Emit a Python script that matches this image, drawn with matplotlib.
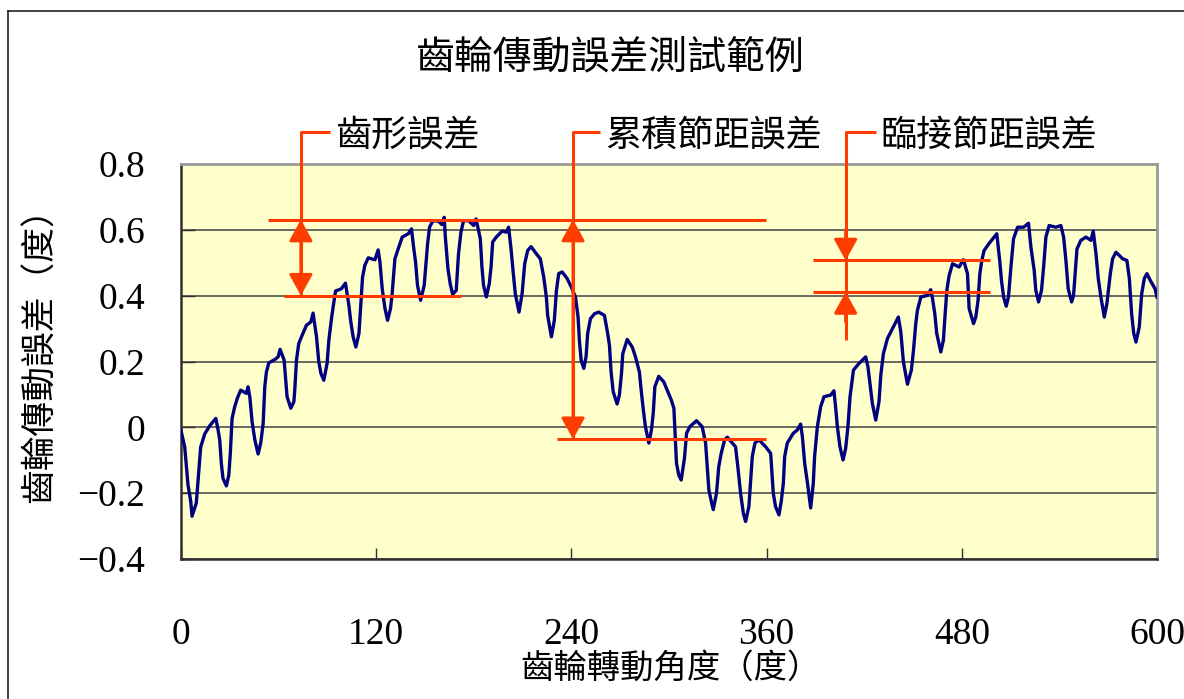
import numpy as np
import matplotlib
matplotlib.use('Agg')
import matplotlib.pyplot as plt

plt.rcParams['font.family'] = ['Noto Sans CJK TC', 'DejaVu Sans']

###########################################################
# data

# gear rotation angle (deg) and transmission error (deg)
angle_deg = [0.0, 2.3, 4.3, 6.0, 6.8, 9.4, 10.9, 12.1, 14.6, 17.7, 21.4, 22.8, 23.8, 24.8, 25.8,
             27.9, 29.4, 30.3, 31.4, 33.0, 34.6, 36.7, 40.2, 41.2, 42.3, 43.7, 45.4, 47.4, 49.0,
             50.5, 51.5, 52.5, 54.0, 57.7, 59.7, 60.9, 63.4, 64.2, 65.2, 67.5, 69.4, 70.0, 71.0,
             72.4, 74.5, 77.1, 79.8, 81.2, 82.3, 83.3, 84.7, 86.0, 87.8, 89.8, 90.9, 92.5, 93.5,
             95.0, 98.6, 101.1, 103.2, 104.4, 105.8, 107.5, 109.4, 110.3, 111.6, 113.0, 115.1,
             119.2, 121.2, 122.3, 123.7, 125.4, 127.0, 128.8, 129.8, 131.5, 133.5, 136.0, 139.7,
             141.7, 143.0, 144.2, 145.4, 147.3, 149.5, 151.6, 152.8, 154.9, 158.3, 160.4, 161.8,
             162.5, 164.1, 165.5, 167.0, 169.2, 170.6, 172.1, 173.7, 176.8, 179.9, 181.4, 184.0,
             185.0, 186.0, 187.7, 189.5, 190.6, 191.6, 193.8, 197.4, 200.0, 201.4, 202.9, 204.1,
             205.5, 207.8, 209.7, 211.3, 213.1, 215.2, 218.5, 220.9, 223.0, 224.6, 225.4, 227.7,
             229.5, 230.8, 232.2, 234.3, 237.4, 240.4, 242.5, 244.1, 244.9, 246.0, 247.6, 249.0,
             250.0, 251.7, 254.2, 256.8, 260.3, 262.3, 263.4, 264.4, 265.7, 268.1, 269.5, 270.8,
             271.6, 274.3, 277.4, 279.4, 281.8, 282.9, 284.1, 285.5, 287.6, 289.2, 290.3, 291.3,
             293.7, 296.8, 298.9, 301.4, 303.0, 304.6, 306.0, 307.5, 309.5, 310.8, 312.8, 316.9,
             320.4, 322.5, 324.5, 326.0, 327.2, 329.2, 330.6, 332.1, 334.2, 335.8, 340.9, 342.3,
             344.0, 345.7, 347.1, 349.1, 350.2, 351.2, 352.8, 355.3, 359.4, 362.5, 364.1, 365.5,
             367.6, 369.0, 370.3, 371.1, 372.7, 376.4, 378.9, 380.9, 382.0, 383.4, 385.0, 387.1,
             388.7, 389.5, 391.2, 393.2, 395.3, 399.4, 401.4, 402.5, 403.5, 405.1, 407.0, 408.6,
             410.0, 411.3, 413.4, 416.8, 420.9, 422.3, 423.4, 425.0, 427.1, 429.1, 430.2, 431.8,
             434.3, 437.4, 441.0, 442.5, 444.1, 446.6, 449.0, 450.3, 451.7, 452.7, 454.8, 458.9,
             460.9, 462.0, 463.4, 464.6, 467.1, 468.7, 469.7, 470.8, 472.2, 474.3, 478.3, 481.0,
             483.5, 484.5, 487.2, 488.6, 490.0, 491.1, 492.3, 493.7, 496.8, 501.5, 502.3, 503.4,
             504.4, 505.7, 507.3, 508.7, 510.2, 511.8, 514.3, 518.0, 521.0, 522.5, 524.5, 525.5,
             527.2, 529.0, 530.3, 531.7, 533.7, 537.8, 540.9, 542.6, 544.0, 545.4, 547.5, 548.7,
             549.5, 550.8, 553.2, 556.3, 559.4, 560.8, 562.5, 563.9, 565.5, 567.6, 569.2, 571.3,
             572.7, 574.8, 578.9, 581.5, 583.0, 584.4, 585.7, 587.1, 589.1, 590.6, 592.2, 593.8,
             595.9, 598.8, 600.0]

error_deg = [-0.01, -0.06, -0.175, -0.225, -0.27, -0.23, -0.135, -0.06, -0.02, 0.005, 0.027, -0.008,
             -0.038, -0.11, -0.155, -0.178, -0.145, -0.08, 0.027, 0.062, 0.088, 0.113, 0.103, 0.123,
             0.093, 0.017, -0.038, -0.081, -0.048, 0.012, 0.123, 0.168, 0.196, 0.206, 0.214, 0.237,
             0.204, 0.153, 0.093, 0.058, 0.078, 0.118, 0.204, 0.255, 0.28, 0.31, 0.32, 0.347, 0.31,
             0.275, 0.199, 0.164, 0.143, 0.194, 0.265, 0.33, 0.365, 0.414, 0.421, 0.438, 0.371, 0.32,
             0.275, 0.244, 0.285, 0.355, 0.456, 0.492, 0.515, 0.509, 0.539, 0.502, 0.421, 0.361,
             0.325, 0.361, 0.406, 0.512, 0.542, 0.578, 0.588, 0.603, 0.547, 0.502, 0.431, 0.386,
             0.431, 0.558, 0.608, 0.628, 0.626, 0.616, 0.638, 0.578, 0.482, 0.436, 0.404, 0.416,
             0.527, 0.593, 0.628, 0.628, 0.613, 0.633, 0.573, 0.487, 0.431, 0.396, 0.436, 0.487,
             0.563, 0.578, 0.596, 0.593, 0.608, 0.542, 0.477, 0.406, 0.35, 0.406, 0.497, 0.537,
             0.549, 0.527, 0.512, 0.456, 0.396, 0.34, 0.275, 0.325, 0.416, 0.467, 0.472, 0.452,
             0.421, 0.396, 0.335, 0.265, 0.204, 0.179, 0.214, 0.285, 0.33, 0.345, 0.35, 0.34,
             0.285, 0.249, 0.168, 0.108, 0.071, 0.098, 0.164, 0.224, 0.267, 0.244, 0.214, 0.168,
             0.113, 0.058, 0.002, -0.048, -0.008, 0.042, 0.123, 0.155, 0.138, 0.113, 0.083, 0.058,
             -0.109, -0.145, -0.16, -0.094, -0.018, 0.002, 0.02, 0.002, -0.048, -0.19, -0.225,
             -0.25, -0.2, -0.119, -0.079, -0.038, -0.03, -0.059, -0.119, -0.2, -0.261, -0.286,
             -0.241, -0.16, -0.089, -0.048, -0.038, -0.059, -0.079, -0.2, -0.241, -0.266, -0.225,
             -0.17, -0.089, -0.048, -0.018, -0.008, 0.01, -0.028, -0.109, -0.165, -0.245, -0.17,
             -0.089, 0.002, 0.062, 0.093, 0.098, 0.111, 0.058, 0.002, -0.059, -0.099, -0.064,
             0.002, 0.093, 0.174, 0.194, 0.214, 0.184, 0.138, 0.073, 0.022, 0.078, 0.158, 0.224,
             0.27, 0.3, 0.335, 0.29, 0.199, 0.131, 0.174, 0.234, 0.315, 0.355, 0.396, 0.401, 0.418,
             0.391, 0.345, 0.285, 0.229, 0.265, 0.34, 0.416, 0.461, 0.497, 0.487, 0.509, 0.467,
             0.361, 0.315, 0.335, 0.386, 0.467, 0.507, 0.537, 0.559, 0.588, 0.552, 0.502, 0.446,
             0.396, 0.368, 0.396, 0.487, 0.573, 0.608, 0.608, 0.62, 0.547, 0.477, 0.416, 0.381,
             0.416, 0.487, 0.578, 0.613, 0.608, 0.613, 0.578, 0.507, 0.421, 0.381, 0.401, 0.456,
             0.542, 0.568, 0.578, 0.568, 0.596, 0.527, 0.452, 0.396, 0.335, 0.376, 0.467, 0.512,
             0.532, 0.512, 0.507, 0.452, 0.345, 0.285, 0.259, 0.305, 0.406, 0.452, 0.467, 0.446,
             0.421, 0.396]

x_ticks = [0, 120, 240, 360, 480, 600]
y_ticks = [-0.4, -0.2, 0, 0.2, 0.4, 0.6, 0.8]
y_tick_labels = ['\u22120.4', '\u22120.2', '0', '0.2', '0.4', '0.6', '0.8']

# error levels marked on the curve
tooth_peak = 0.631       # highest tooth top
tooth_root = 0.40        # root of the same tooth
cum_low = -0.036         # lowest tooth top
adj_upper = 0.507        # adjacent tooth tops
adj_lower = 0.411

label_tooth = '齒形誤差'
label_cum = '累積節距誤差'
label_adj = '臨接節距誤差'

###########################################################
# figure

RED = '#FF3C00'
NAVY = '#000080'

fig = plt.figure(figsize=(11.84, 6.99), dpi=100)
ax = fig.add_axes([181 / 1184, 1 - 559 / 699, 976 / 1184, 395 / 699])
ax.set_facecolor('#FFFFCC')

ax.set_xlim(0, 600)
ax.set_ylim(-0.4, 0.8)
ax.set_yticks(y_ticks)
ax.set_yticklabels(y_tick_labels)
ax.set_xticks(x_ticks)
ax.yaxis.grid(True, color='#404040', lw=1.1)
ax.set_axisbelow(True)

ax.plot(angle_deg, error_deg, color=NAVY, lw=2.4, zorder=3)

for s in ['top', 'right']:
    ax.spines[s].set_color('#9a9a9a')
    ax.spines[s].set_linewidth(2.0)
for s in ['left', 'bottom']:
    ax.spines[s].set_color('#303030')
    ax.spines[s].set_linewidth(1.8)

ax.tick_params(axis='both', direction='in', color='#303030', width=1.0)
ax.tick_params(axis='x', length=8, pad=42)
ax.tick_params(axis='y', length=10, pad=26)
for lab in ax.get_xticklabels() + ax.get_yticklabels():
    lab.set_fontfamily(['Liberation Serif'])
    lab.set_fontsize(27)

# annotation lines
red = dict(color=RED, lw=2.2, clip_on=False, zorder=4, solid_capstyle='butt')
stub_y = 0.898

ax.plot([53.5, 359.5], [tooth_peak, tooth_peak], **red)
ax.plot([63.4, 172.1], [tooth_root, tooth_root], **red)
ax.plot([231.2, 359.4], [cum_low, cum_low], **red)
ax.plot([388.7, 497.4], [adj_upper, adj_upper], **red)
ax.plot([388.7, 497.4], [adj_lower, adj_lower], **red)

def bracket(x, y_end, stub_to):
    ax.plot([stub_to, x, x], [stub_y, stub_y, y_end], **red)

def head(x, tip, frm):
    ax.annotate('', xy=(x, tip), xytext=(x, frm), annotation_clip=False,
                arrowprops=dict(arrowstyle='-|>,head_length=0.65,head_width=0.36',
                                mutation_scale=20, color=RED, lw=2.2,
                                shrinkA=0, shrinkB=0), zorder=5)

x_tooth, x_cum, x_adj = 73.7, 241.0, 408.6

bracket(x_tooth, tooth_root, 91.7)
head(x_tooth, tooth_peak, 0.52)
head(x_tooth, tooth_root, 0.52)

bracket(x_cum, cum_low, 257.8)
head(x_cum, tooth_peak, 0.3)
head(x_cum, cum_low, 0.3)

bracket(x_adj, 0.265, 427.0)
head(x_adj, adj_upper, 0.60)
head(x_adj, adj_lower, 0.32)

lab_kw = dict(fontsize=26, va='center', ha='left', color='black')
ax.text(94.8, stub_y - 0.01, label_tooth, **lab_kw)
ax.text(260.9, stub_y - 0.01, label_cum, **lab_kw)
ax.text(430.0, stub_y - 0.01, label_adj, **lab_kw)

# titles
fig.text(610 / 1184, 1 - 57 / 699, '齒輪傳動誤差測試範例', fontsize=28,
         ha='center', va='center')
fig.text(670 / 1184, 1 - 668 / 699, '齒輪轉動角度（度）', fontsize=24,
         ha='center', va='center')
fig.text(40 / 1184, 1 - 347 / 699, '齒輪傳動誤差（度）', fontsize=25,
         ha='center', va='center', rotation=90)

# chart frame
fig.add_artist(plt.Line2D([7.5 / 1184, 7.5 / 1184], [0, 1 - 10.5 / 699],
                          color='#202020', lw=1.2, transform=fig.transFigure))
fig.add_artist(plt.Line2D([7.5 / 1184, 1], [1 - 10.5 / 699, 1 - 10.5 / 699],
                          color='#202020', lw=1.2, transform=fig.transFigure))

fig.savefig('out.png', dpi=100)
